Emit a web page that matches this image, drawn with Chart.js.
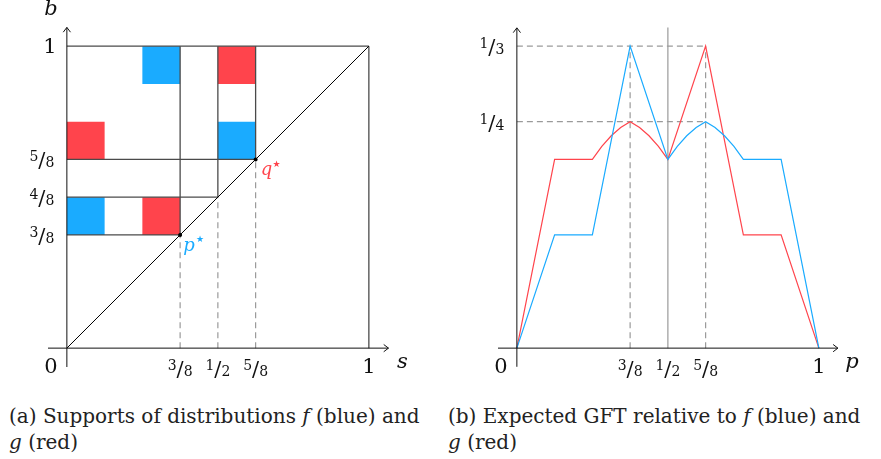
<!DOCTYPE html>
<html>
<head>
<meta charset="utf-8">
<script src="https://cdn.jsdelivr.net/npm/chart.js@4.4.1/dist/chart.umd.min.js"></script>
<style>
    body { margin: 0; background: #fff; width: 881px; height: 459px; position: relative; overflow: hidden; font-family: "DejaVu Serif", serif; }
    #supportChart { position: absolute; left: 0; top: 0; }
    #gftChart { position: absolute; left: 440px; top: 0; }
    .caption { position: absolute; top: 403px; font-size: 20px; line-height: 26px; color: #222; white-space: nowrap; }
</style>
</head>
<body>
<canvas id="supportChart" width="440" height="380"></canvas>
<canvas id="gftChart" width="441" height="380"></canvas>
<div class="caption" style="left:9px">(a) Supports of distributions <i>f</i> (blue) and<br><i>g</i> (red)</div>
<div class="caption" style="left:448px">(b) Expected GFT relative to <i>f</i> (blue) and<br><i>g</i> (red)</div>

<script>
// ---- Panel (a): supports on the (s, b) square ----
// squares as [sFrom, sTo, bFrom, bTo]
const blueSquares = [[2/8, 3/8, 7/8, 1], [4/8, 5/8, 5/8, 6/8], [0, 1/8, 3/8, 4/8]];
const redSquares = [[4/8, 5/8, 7/8, 1], [0, 1/8, 5/8, 6/8], [2/8, 3/8, 3/8, 4/8]];
// solid guide segments as [s1, b1, s2, b2]
const frameSegments = [
    [0, 1, 1, 1], [1, 0, 1, 1],
    [3/8, 3/8, 3/8, 1], [4/8, 4/8, 4/8, 1], [5/8, 5/8, 5/8, 1],
    [0, 5/8, 5/8, 5/8], [0, 4/8, 4/8, 4/8], [0, 3/8, 3/8, 3/8]
];
const diagonal = [[0, 0], [1, 1]];
const dropLines = [3/8, 4/8, 5/8];          // dashed, from s-axis to the diagonal
const starPoints = [[3/8, 3/8], [5/8, 5/8]]; // p* and q*
const sTicks = [3/8, 1/2, 5/8];
const sTickLabels = ['3/8', '1/2', '5/8'];
const bTicks = [3/8, 4/8, 5/8];
const bTickLabels = ['3/8', '4/8', '5/8'];

// ---- Panel (b): expected GFT as a function of the price p ----
const bluePrices = [0, 1/8, 2/8, 3/8, 1/2, 17/32, 9/16, 19/32, 5/8, 21/32, 11/16, 23/32, 6/8, 7/8, 1];
const gftBlue = [0, 0.125, 0.125, 0.3333, 0.2083, 0.2227, 0.2344, 0.2435, 0.25, 0.2435, 0.2344, 0.2227, 0.2083, 0.2083, 0];
const redPrices = [0, 1/8, 2/8, 9/32, 5/16, 11/32, 3/8, 13/32, 7/16, 15/32, 1/2, 5/8, 6/8, 7/8, 1];
const gftRed = [0, 0.2083, 0.2083, 0.2227, 0.2344, 0.2435, 0.25, 0.2435, 0.2344, 0.2227, 0.2083, 0.3333, 0.125, 0.125, 0];
const gftTicks = [1/4, 1/3];
const gftTickLabels = ['1/4', '1/3'];
const pTicks = [3/8, 1/2, 5/8];
const pTickLabels = ['3/8', '1/2', '5/8'];

const BLUE = '#1aabff';
const RED = '#ff444c';
const GUIDE = '#4a4a4a';
const DASH = '#9a9a9a';
const SERIF = '"DejaVu Serif", serif';

function lineDs(points, color, width, dash, order) {
    return {
        data: points.map(([x, y]) => ({ x, y })),
        showLine: true,
        borderColor: color,
        borderWidth: width,
        borderDash: dash || [],
        pointRadius: 0,
        fill: false,
        tension: 0,
        order: order
    };
}

function squareDs(sq, color) {
    const [s0, s1, b0, b1] = sq;
    return {
        data: [{ x: s0, y: b0 }, { x: s1, y: b0 }, { x: s1, y: b1 }, { x: s0, y: b1 }, { x: s0, y: b0 }],
        showLine: true,
        fill: 'shape',
        backgroundColor: color,
        borderColor: 'transparent',
        borderWidth: 1,
        pointRadius: 0,
        order: 10
    };
}

// nicefrac-style label centred on (cx, cy)
function drawFrac(ctx, label, cx, cy) {
    const [n, d] = label.split('/');
    ctx.save();
    ctx.textAlign = 'left';
    ctx.textBaseline = 'alphabetic';
    ctx.fillStyle = '#111';
    ctx.font = '14px ' + SERIF;
    const nw = ctx.measureText(n).width;
    const dw = ctx.measureText(d).width;
    ctx.font = '21px ' + SERIF;
    const sw = ctx.measureText('/').width;
    let x = cx - (nw + sw + dw) / 2;
    ctx.font = '14px ' + SERIF;
    ctx.fillText(n, x, cy + 2);
    x += nw;
    ctx.font = '21px ' + SERIF;
    ctx.fillText('/', x, cy + 8);
    x += sw;
    ctx.font = '14px ' + SERIF;
    ctx.fillText(d, x, cy + 8);
    ctx.restore();
}

function drawText(ctx, text, cx, cy, font, color) {
    ctx.save();
    ctx.font = font;
    ctx.fillStyle = color || '#111';
    ctx.textAlign = 'center';
    ctx.textBaseline = 'middle';
    ctx.fillText(text, cx, cy);
    ctx.restore();
}

function arrowLine(ctx, x1, y1, x2, y2) {
    ctx.beginPath();
    ctx.moveTo(x1, y1);
    ctx.lineTo(x2, y2);
    ctx.stroke();
    const a = Math.atan2(y2 - y1, x2 - x1), L = 6, w = 0.65;
    ctx.beginPath();
    ctx.moveTo(x2 - L * Math.cos(a - w), y2 - L * Math.sin(a - w));
    ctx.lineTo(x2, y2);
    ctx.lineTo(x2 - L * Math.cos(a + w), y2 - L * Math.sin(a + w));
    ctx.stroke();
}

// axes with arrows + labels, positioned through the chart's scales
function axesPlugin(cfg) {
    return {
        id: 'axes_' + cfg.name,
        afterDatasetsDraw(chart) {
            const { ctx, scales: { x, y } } = chart;
            const px = v => x.getPixelForValue(v);
            const py = v => y.getPixelForValue(v);
            ctx.save();
            ctx.strokeStyle = '#111';
            ctx.lineWidth = 1;
            arrowLine(ctx, px(cfg.xAxis[0]), py(0), px(cfg.xAxis[1]), py(0));
            arrowLine(ctx, px(0), py(cfg.yAxis[0]), px(0), py(cfg.yAxis[1]));
            ctx.restore();

            const big = '21px ' + SERIF;
            const ital = 'italic 21px ' + SERIF;
            drawText(ctx, '0', px(0) - 16, py(0) + 19, big);
            drawText(ctx, '1', px(1), py(0) + 19, big);
            cfg.xTicks.forEach((v, i) => drawFrac(ctx, cfg.xTickLabels[i], px(v), py(0) + 20));
            cfg.yTicks.forEach((v, i) => drawFrac(ctx, cfg.yTickLabels[i], px(0) - 25, py(v)));
            drawText(ctx, cfg.xName, px(cfg.xAxis[1]) + 14, py(0) + 14, ital);
            if (cfg.yName) drawText(ctx, cfg.yName, px(0) - 16, py(cfg.yAxis[1]) - 18, ital);
            if (cfg.yOne) drawText(ctx, '1', px(0) - 17, py(1) + 1, big);
            if (cfg.after) cfg.after(ctx, px, py);
        }
    };
}

const baseOptions = (xMin, xMax, yMin, yMax, padding) => ({
    responsive: false,
    animation: false,
    layout: { padding: padding },
    plugins: { legend: { display: false }, tooltip: { enabled: false } },
    scales: {
        x: { type: 'linear', min: xMin, max: xMax, display: false },
        y: { type: 'linear', min: yMin, max: yMax, display: false }
    }
});

// ---- build panel (a) ----
const supportDatasets = [];
blueSquares.forEach(sq => supportDatasets.push(squareDs(sq, BLUE)));
redSquares.forEach(sq => supportDatasets.push(squareDs(sq, RED)));
frameSegments.forEach(([a, b, c, d]) => supportDatasets.push(lineDs([[a, b], [c, d]], GUIDE, 1.3, null, 3)));
dropLines.forEach(s => supportDatasets.push(lineDs([[s, 0], [s, s]], DASH, 1.2, [6, 4], 4)));
supportDatasets.push(lineDs(diagonal, '#000', 1, null, 2));
supportDatasets.push({
    data: starPoints.map(([x, y]) => ({ x, y })),
    showLine: false,
    pointRadius: 2,
    pointBackgroundColor: '#000',
    pointBorderWidth: 0,
    order: 1
});

new Chart(document.getElementById('supportChart'), {
    type: 'scatter',
    data: { datasets: supportDatasets },
    options: baseOptions(-0.0625, 1.07, -0.0625, 1.07, { left: 48, right: 50, top: 25, bottom: 13 }),
    plugins: [axesPlugin({
        name: 'a',
        xAxis: [-0.0625, 1.065], yAxis: [-0.0625, 1.062],
        xTicks: sTicks, xTickLabels: sTickLabels,
        yTicks: bTicks, yTickLabels: bTickLabels,
        xName: 's', yName: 'b', yOne: true,
        after(ctx, px, py) {
            const [p, q] = starPoints;
            drawText(ctx, 'p', px(p[0]) + 9, py(p[1]) + 11, 'italic 18px ' + SERIF, BLUE);
            drawText(ctx, '\u2605', px(p[0]) + 20, py(p[1]) + 5, '9px "DejaVu Sans"', BLUE);
            drawText(ctx, 'q', px(q[0]) + 11, py(q[1]) + 11, 'italic 18px ' + SERIF, RED);
            drawText(ctx, '\u2605', px(q[0]) + 21, py(q[1]) + 5, '9px "DejaVu Sans"', RED);
        }
    })]
});

// ---- build panel (b) ----
const gftDatasets = [
    lineDs([[1/2, 0], [1/2, 0.354]], '#a8a8a8', 1.4, null, 5),
    lineDs([[0, gftTicks[1]], [5/8, gftTicks[1]]], DASH, 1.2, [6, 4], 4),
    lineDs([[0, gftTicks[0]], [5/8, gftTicks[0]]], DASH, 1.2, [6, 4], 4),
    lineDs([[3/8, 0], [3/8, gftTicks[1]]], DASH, 1.2, [6, 4], 4),
    lineDs([[5/8, 0], [5/8, gftTicks[1]]], DASH, 1.2, [6, 4], 4),
    lineDs(redPrices.map((p, i) => [p, gftRed[i]]), RED, 1.2, null, 2),
    lineDs(bluePrices.map((p, i) => [p, gftBlue[i]]), BLUE, 1.2, null, 1)
];

new Chart(document.getElementById('gftChart'), {
    type: 'scatter',
    data: { datasets: gftDatasets },
    options: baseOptions(-0.0625, 1.07, -0.0625 / 3, 1.07 / 3, { left: 58, right: 41, top: 25, bottom: 13 }),
    plugins: [axesPlugin({
        name: 'b',
        xAxis: [-0.0625, 1.063], yAxis: [-0.0206, 0.3535],
        xTicks: pTicks, xTickLabels: pTickLabels,
        yTicks: gftTicks, yTickLabels: gftTickLabels,
        xName: 'p', yName: null, yOne: false
    })]
});
</script>
</body>
</html>
